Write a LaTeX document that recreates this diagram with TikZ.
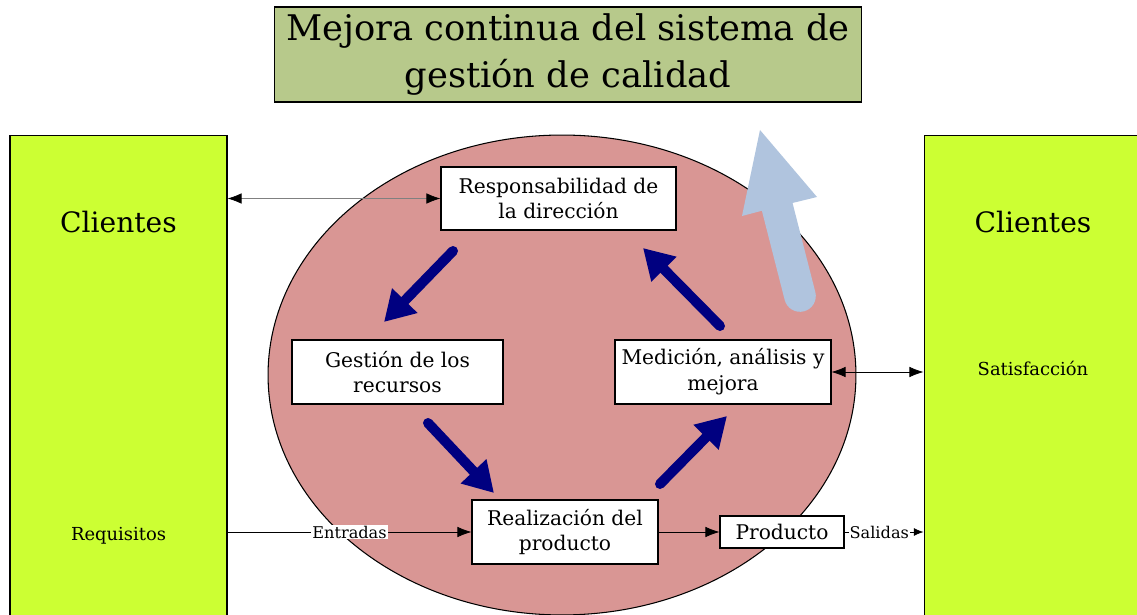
\documentclass[tikz,border=0pt]{standalone}
\usepackage{fontspec}
\setmainfont{DejaVu Serif}
\usepackage{tikz}
\usetikzlibrary{positioning,calc,arrows.meta}

\definecolor{titlegreen}{RGB}{183,201,139}
\definecolor{clientgreen}{RGB}{204,255,51}
\definecolor{ellipsered}{RGB}{217,150,148}
\definecolor{cyclenavy}{RGB}{0,0,128}
\definecolor{improveblue}{RGB}{176,196,222}

\begin{document}
\begin{tikzpicture}[x=0.02cm,y=-0.02cm,
    procbox/.style={draw,semithick,fill=white,align=center,font=\fontsize{11.5}{14.7}\selectfont,inner sep=0pt},
    clientbox/.style={draw,semithick,fill=clientgreen,minimum height=9.8cm,inner sep=0pt},
    cyclearrow/.style={cyclenavy,line width=5.7pt,line cap=round,-{Triangle[length=17pt,width=19pt]}},
    thinarrow/.style={-{Latex[length=8pt,width=6pt]}},
    flowlabel/.style={fill=white,inner sep=0.5pt,font=\fontsize{9.2}{10}\selectfont}]
    \useasboundingbox (0,0) rectangle (1137,615);

    % Ellipse
    \draw[semithick,fill=ellipsered] (562,375) ellipse [x radius=5.88cm, y radius=4.8cm];

    % Title
    \node[draw,semithick,fill=titlegreen,minimum width=11.76cm,minimum height=1.9cm,align=center,
      font=\fontsize{20.1}{26.6}\selectfont] (title) at (568,54.5)
      {Mejora continua del sistema de\\gestión de calidad};

    % Clients
    \node[clientbox,minimum width=4.34cm] (cliL) at (118.5,380) {};
    \node[clientbox,minimum width=4.48cm] (cliR) at (1036,380) {};
    \node[font=\fontsize{16}{18}\selectfont] (cliLtxt) at (118.5,222) {Clientes};
    \node[font=\fontsize{16}{18}\selectfont] (cliRtxt) at (1033,222) {Clientes};
    \node[font=\fontsize{10.2}{11}\selectfont] (req) at (118.5,536) {Requisitos};
    \node[font=\fontsize{10.2}{11}\selectfont] (sat) at (1033,368) {Satisfacción};

    % Processes
    \node[procbox,minimum width=4.7cm,minimum height=1.26cm] (resp) at (558.5,198.5)
      {Responsabilidad de\\la dirección};
    \node[procbox,minimum width=4.22cm,minimum height=1.28cm] (gest) at (397.5,372)
      {Gestión de los\\recursos};
    \node[procbox,minimum width=4.32cm,minimum height=1.28cm] (medi) at (723,372)
      {Medición, análisis y\\mejora};
    \node[procbox,minimum width=3.72cm,minimum height=1.28cm] (real) at (565,532)
      {Realización del\\producto};
    \node[procbox,minimum width=2.48cm,minimum height=0.64cm] (prod) at (782,532)
      {Producto};

    % Cycle
    \coordinate (c1a) at (453,251); \coordinate (c1b) at (384,322);
    \coordinate (c2a) at (428,423); \coordinate (c2b) at (494,493);
    \coordinate (c3a) at (660,484); \coordinate (c3b) at (727,416);
    \coordinate (c4a) at (720,326); \coordinate (c4b) at (643,248);
    \draw[cyclearrow] (c1a) -- (c1b);
    \draw[cyclearrow] (c2a) -- (c2b);
    \draw[cyclearrow] (c3a) -- (c3b);
    \draw[cyclearrow] (c4a) -- (c4b);

    % Improvement arrow
    \coordinate (upTail) at (800,296);
    \coordinate (upNeck) at (777,206);
    \draw[improveblue,line width=18pt,line cap=round] (upTail) -- (upNeck);
    \fill[improveblue] (760,130) -- (817,197) -- (776,207) -- (742,216) -- cycle;

    % Links
    \draw[gray,{Latex[length=8pt,width=6pt,black]}-{Latex[length=8pt,width=6pt,black]}]
      (resp.west -| cliL.east) -- (resp.west);
    \draw[{Latex[length=8pt,width=6pt]}-{Latex[length=8pt,width=6pt]}]
      (medi.east) -- (medi.east -| cliR.west);
    \draw[thinarrow] (real.west -| cliL.east) -- node[flowlabel] {Entradas} (real.west);
    \draw[thinarrow] (real.east) -- (prod.west);
    \draw[-{Latex[length=5.5pt,width=4.5pt]}] (prod.east) -- node[flowlabel,pos=0.44] {Salidas} (prod.east -| cliR.west);
\end{tikzpicture}
\end{document}
